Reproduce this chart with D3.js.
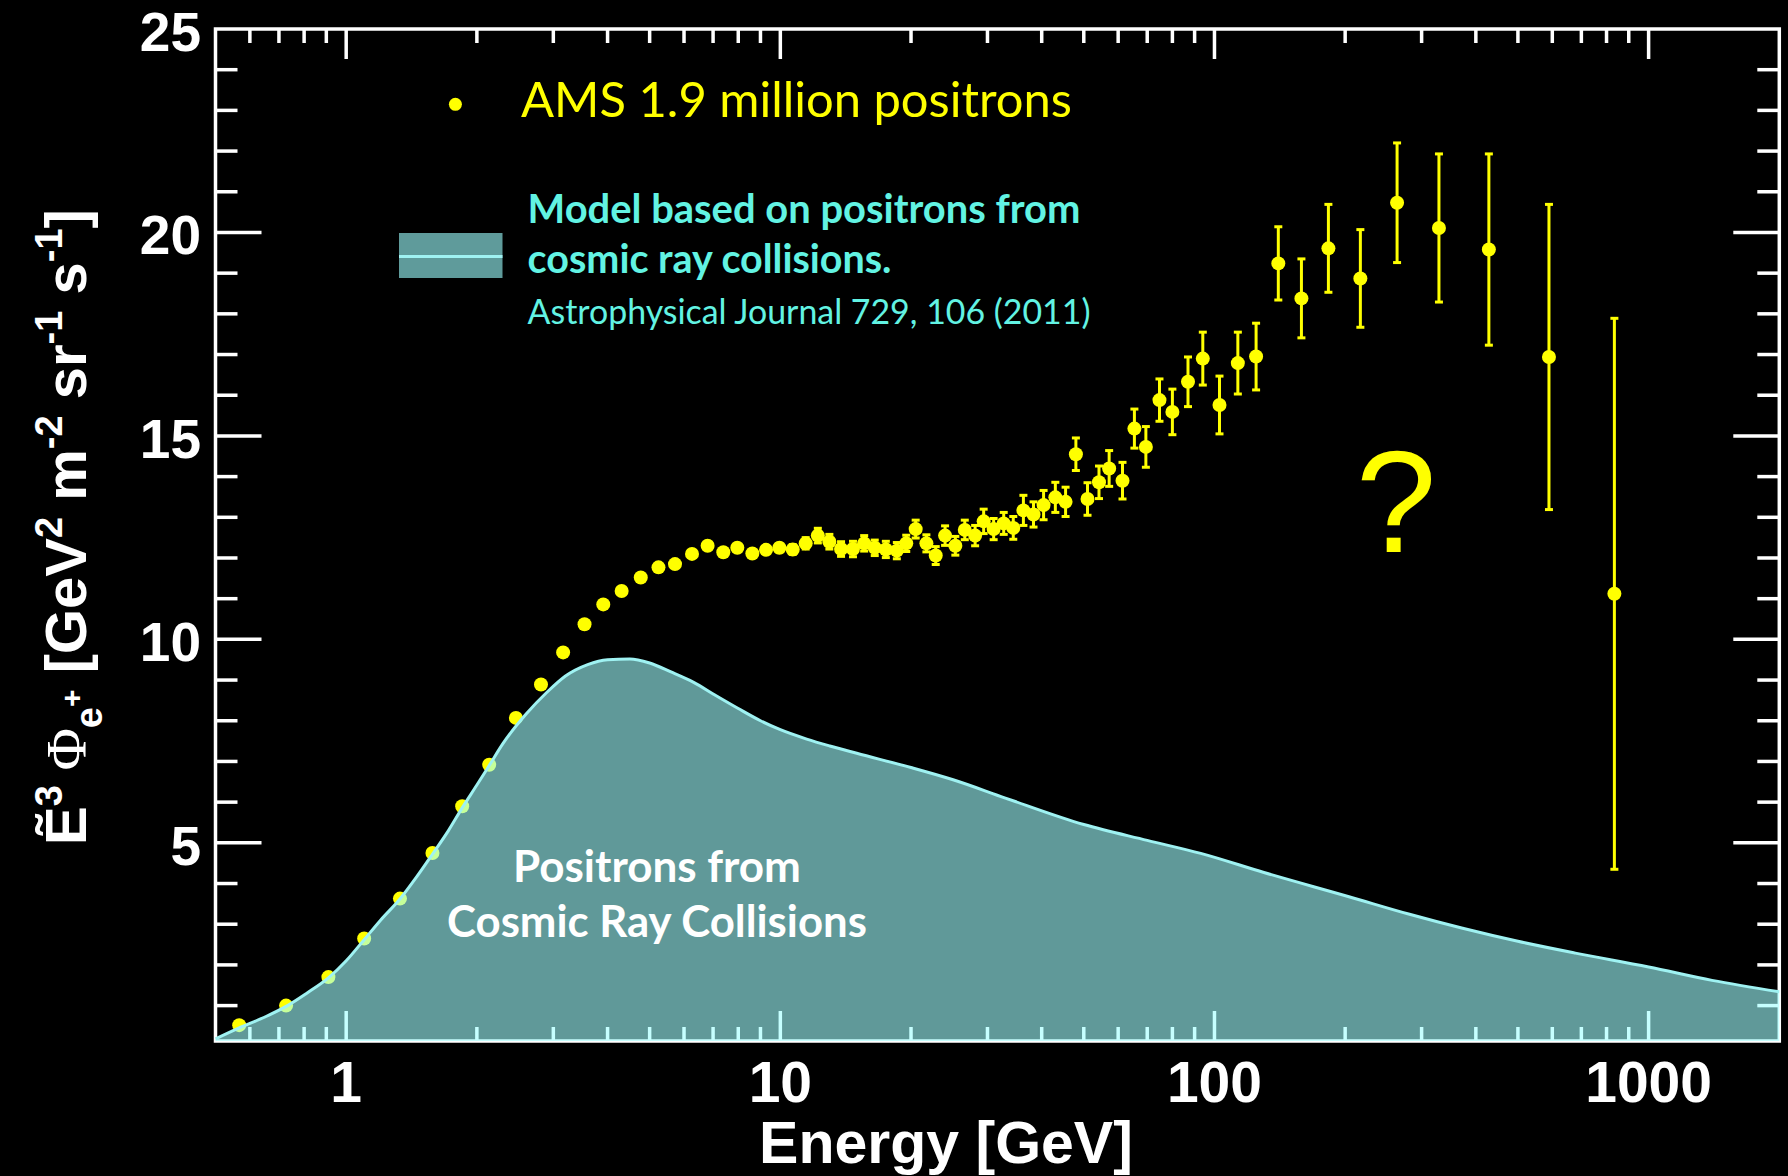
<!DOCTYPE html>
<html>
<head>
<meta charset="utf-8">
<script src="https://cdn.jsdelivr.net/npm/d3@7"></script>
<style>
  html, body { margin: 0; padding: 0; background: #000; }
  svg { display: block; }
</style>
</head>
<body>
<svg id="chart" width="1788" height="1176"></svg>
<script>
// AMS data points: energy [GeV], E^3 flux and error
const energy = [0.567, 0.727, 0.91, 1.10, 1.33, 1.58, 1.85, 2.135, 2.46, 2.81,
    3.16, 3.54, 3.91, 4.31, 4.77, 5.24, 5.72, 6.26, 6.80, 7.39,
    7.96, 8.62, 9.27, 9.95, 10.68, 11.44, 12.2, 12.97, 13.8, 14.7,
    15.6, 16.5, 17.5, 18.55, 19.5, 20.5, 21.7, 22.8, 23.96, 25.3,
    26.6, 28.1, 29.4, 31.0, 32.7, 34.4, 36.3, 38.3, 40.4, 43.0,
    45.4, 47.95, 51.0, 54.2, 57.2, 61.4, 65.4, 69.5, 74.7, 80.0,
    86.9, 94.0, 102.7, 113.2, 124.7, 140.3, 158.6, 183, 216.8, 263.4,
    328.9, 428.6, 589.5, 834];
const flux = [0.52, 1.00, 1.70, 2.65, 3.63, 4.75, 5.90, 6.92, 8.07, 8.89,
    9.68, 10.37, 10.86, 11.19, 11.52, 11.77, 11.85, 12.10, 12.30, 12.14,
    12.25, 12.11, 12.20, 12.25, 12.21, 12.36, 12.55, 12.40, 12.22, 12.22,
    12.36, 12.25, 12.21, 12.18, 12.36, 12.71, 12.36, 12.06, 12.55, 12.30,
    12.69, 12.55, 12.90, 12.71, 12.85, 12.74, 13.17, 13.07, 13.30, 13.49,
    13.38, 14.55, 13.45, 13.86, 14.20, 13.90, 15.18, 14.73, 15.88, 15.59,
    16.33, 16.90, 15.76, 16.79, 16.95, 19.24, 18.38, 19.61, 18.87, 20.73,
    20.11, 19.58, 16.94, 11.12];
const fluxErr = [0.03, 0.03, 0.03, 0.03, 0.03, 0.03, 0.03, 0.03, 0.03, 0.03,
    0.04, 0.04, 0.04, 0.05, 0.05, 0.05, 0.05, 0.06, 0.06, 0.06,
    0.07, 0.08, 0.09, 0.10, 0.12, 0.14, 0.18, 0.18, 0.18, 0.19,
    0.19, 0.19, 0.20, 0.20, 0.20, 0.22, 0.21, 0.22, 0.24, 0.23,
    0.24, 0.25, 0.30, 0.26, 0.27, 0.28, 0.37, 0.31, 0.36, 0.37,
    0.36, 0.40, 0.40, 0.40, 0.44, 0.45, 0.48, 0.50, 0.52, 0.56,
    0.61, 0.65, 0.71, 0.76, 0.82, 0.90, 0.97, 1.08, 1.20, 1.47,
    1.82, 2.35, 3.75, 6.77];

// Model: positrons from cosmic ray collisions
const modelEnergy = [0.5, 0.567, 0.65, 0.727, 0.81, 0.91, 1.0, 1.1, 1.2, 1.33,
    1.45, 1.58, 1.72, 1.85, 2.0, 2.135, 2.3, 2.6, 2.9, 3.2,
    3.6, 4.0, 4.5, 5.0, 5.6, 6.3, 7.1, 8.0, 9.0, 10,
    11.5, 13, 15, 20, 25, 33, 50, 70, 93, 130,
    205, 280, 373, 500, 678, 1000, 1400, 2000];
const modelFlux = [0.18, 0.45, 0.72, 0.98, 1.3, 1.68, 2.1, 2.62, 3.1, 3.62,
    4.15, 4.72, 5.3, 5.86, 6.42, 6.9, 7.45, 8.17, 8.7, 9.1,
    9.38, 9.5, 9.52, 9.42, 9.2, 8.95, 8.62, 8.3, 8.0, 7.78,
    7.55, 7.38, 7.2, 6.85, 6.55, 6.1, 5.45, 5.06, 4.74, 4.27,
    3.67, 3.25, 2.9, 2.58, 2.29, 1.95, 1.62, 1.34];

const xTickLabels = [1, 10, 100, 1000];
const yTickLabels = [5, 10, 15, 20, 25];

const svg = d3.select("#chart");
const cyanText = "#62f3e3";
const yellow = "#ffff00";

// scales
const xScale = d3.scaleLog().domain([0.5, 2000]).range([215.5, 1779.3]);
const yScale = d3.scaleLinear().domain([0.13, 25]).range([1041, 29]);

const plotLeft = xScale.range()[0], plotRight = xScale.range()[1];
const plotTop = yScale.range()[1], plotBottom = yScale.range()[0];

// frame and ticks
const axisG = svg.append("g")
    .attr("stroke", "#fff")
    .attr("stroke-width", 3.5)
    .attr("fill", "none");

axisG.append("rect")
    .attr("x", plotLeft).attr("y", plotTop)
    .attr("width", plotRight - plotLeft).attr("height", plotBottom - plotTop);

const xTicks = xScale.ticks().filter((d) => d > 0.5 && d < 2000);
xTicks.forEach((d) => {
    const major = xTickLabels.includes(d);
    const len = major ? 30 : 14;
    const x = xScale(d);
    axisG.append("line").attr("x1", x).attr("x2", x).attr("y1", plotBottom).attr("y2", plotBottom - len);
    axisG.append("line").attr("x1", x).attr("x2", x).attr("y1", plotTop).attr("y2", plotTop + len);
});

const yTicks = d3.range(1, 25);
yTicks.forEach((d) => {
    const major = yTickLabels.includes(d);
    const len = major ? 46 : 22;
    const y = yScale(d);
    axisG.append("line").attr("x1", plotLeft).attr("x2", plotLeft + len).attr("y1", y).attr("y2", y);
    axisG.append("line").attr("x1", plotRight).attr("x2", plotRight - len).attr("y1", y).attr("y2", y);
});

// tick labels
svg.append("g")
    .selectAll("text")
    .data(yTickLabels)
    .enter()
    .append("text")
    .attr("x", 201)
    .attr("y", (d) => yScale(d))
    .attr("dy", "0.4em")
    .attr("text-anchor", "end")
    .style("font-family", "'Liberation Sans', Arial, sans-serif")
    .style("font-weight", "bold")
    .style("font-size", "55px")
    .attr("fill", "#fff")
    .text((d) => d);

svg.append("g")
    .selectAll("text")
    .data(xTickLabels)
    .enter()
    .append("text")
    .attr("x", (d) => xScale(d))
    .attr("y", 1102)
    .attr("text-anchor", "middle")
    .style("font-family", "'Liberation Sans', Arial, sans-serif")
    .style("font-weight", "bold")
    .style("font-size", "57px")
    .attr("fill", "#fff")
    .text((d) => d);

// axis titles
svg.append("text")
    .attr("x", 946)
    .attr("y", 1163)
    .attr("text-anchor", "middle")
    .style("font-family", "'Liberation Sans', Arial, sans-serif")
    .style("font-weight", "bold")
    .style("font-size", "59px")
    .attr("fill", "#fff")
    .text("Energy [GeV]");

const yTitle = svg.append("text")
    .attr("transform", "translate(86,527) rotate(-90)")
    .attr("text-anchor", "middle")
    .style("font-family", "'Liberation Sans', Arial, sans-serif")
    .style("font-weight", "bold")
    .style("font-size", "58px")
    .attr("fill", "#fff");
yTitle.append("tspan").text("Ẽ");
yTitle.append("tspan").attr("dy", -24).style("font-size", "38px").text("3");
yTitle.append("tspan").attr("dy", 24).style("font-family", "'Liberation Serif', serif")
    .style("font-weight", "normal").text(" Φ");
yTitle.append("tspan").attr("dy", 16).style("font-size", "38px").text("e");
yTitle.append("tspan").attr("dy", -20).style("font-size", "30px").text("+");
yTitle.append("tspan").attr("dy", 4).text(" [GeV");
yTitle.append("tspan").attr("dy", -24).style("font-size", "38px").text("2");
yTitle.append("tspan").attr("dy", 24).text(" m");
yTitle.append("tspan").attr("dy", -24).style("font-size", "38px").text("-2");
yTitle.append("tspan").attr("dy", 24).text(" sr");
yTitle.append("tspan").attr("dy", -24).style("font-size", "38px").text("-1");
yTitle.append("tspan").attr("dy", 24).text(" s");
yTitle.append("tspan").attr("dy", -24).style("font-size", "38px").text("-1");
yTitle.append("tspan").attr("dy", 24).text("]");

// data points with error bars
const points = energy.map((e, i) => ({ e, v: flux[i], err: fluxErr[i] }));
const pg = svg.append("g");

pg.selectAll(".err")
    .data(points)
    .enter()
    .append("line")
    .attr("class", "err")
    .attr("x1", (d) => xScale(d.e))
    .attr("x2", (d) => xScale(d.e))
    .attr("y1", (d) => yScale(d.v + d.err))
    .attr("y2", (d) => yScale(d.v - d.err))
    .attr("stroke", yellow)
    .attr("stroke-width", 3);

["hi", "lo"].forEach((s) => {
    pg.selectAll(".cap" + s)
        .data(points)
        .enter()
        .append("line")
        .attr("class", "cap" + s)
        .attr("x1", (d) => xScale(d.e) - 4)
        .attr("x2", (d) => xScale(d.e) + 4)
        .attr("y1", (d) => yScale(s === "hi" ? d.v + d.err : d.v - d.err))
        .attr("y2", (d) => yScale(s === "hi" ? d.v + d.err : d.v - d.err))
        .attr("stroke", yellow)
        .attr("stroke-width", 3);
});

pg.selectAll(".dot")
    .data(points)
    .enter()
    .append("circle")
    .attr("class", "dot")
    .attr("cx", (d) => xScale(d.e))
    .attr("cy", (d) => yScale(d.v))
    .attr("r", 7)
    .attr("fill", yellow);

// model area (translucent, on top of points and axes)
const model = modelEnergy.map((e, i) => ({ e, v: modelFlux[i] }));

const area = d3.area()
    .x((d) => xScale(d.e))
    .y0(plotBottom)
    .y1((d) => yScale(d.v))
    .curve(d3.curveMonotoneX);

const line = d3.line()
    .x((d) => xScale(d.e))
    .y((d) => yScale(d.v))
    .curve(d3.curveMonotoneX);

svg.append("path")
    .datum(model)
    .attr("d", area)
    .attr("fill", "rgb(160,255,255)")
    .attr("fill-opacity", 0.6);

svg.append("path")
    .datum(model)
    .attr("d", line)
    .attr("fill", "none")
    .attr("stroke", "#9ff2f2")
    .attr("stroke-width", 3);

// text helper: scale font size to hit a target width
function fitWidth(sel, target) {
    const w = sel.node().getComputedTextLength();
    const fs = parseFloat(sel.style("font-size"));
    sel.style("font-size", (fs * target / w) + "px");
}

function addText(x, y, str, opts) {
    const t = svg.append("text")
        .attr("x", x)
        .attr("y", y)
        .attr("text-anchor", opts.anchor || "start")
        .style("font-family", opts.font || "Lato, 'Open Sans', sans-serif")
        .style("font-weight", opts.bold ? "bold" : "normal")
        .style("font-size", (opts.size || 40) + "px")
        .attr("fill", opts.color)
        .text(str);
    if (opts.width) fitWidth(t, opts.width);
    return t;
}

// legend
svg.append("circle")
    .attr("cx", 455.4).attr("cy", 104.3).attr("r", 6.5)
    .attr("fill", yellow);
addText(521, 117, "AMS 1.9 million positrons", { color: yellow, width: 551, size: 46 });

svg.append("rect")
    .attr("x", 399).attr("y", 233)
    .attr("width", 103.5).attr("height", 45)
    .attr("fill", "#5f9b9b");
svg.append("line")
    .attr("x1", 399).attr("x2", 502.5)
    .attr("y1", 256.5).attr("y2", 256.5)
    .attr("stroke", "#9ff2f2")
    .attr("stroke-width", 3);

addText(527.6, 222.7, "Model based on positrons from", { color: cyanText, bold: true, width: 553, size: 40 });
addText(527.6, 273, "cosmic ray collisions.", { color: cyanText, bold: true, width: 364, size: 40 });
addText(527.6, 324, "Astrophysical Journal 729, 106 (2011)", { color: cyanText, width: 563, size: 34 });

// annotations
addText(657, 881.7, "Positrons from", { color: "#fff", bold: true, anchor: "middle", width: 288, size: 42 });
addText(657, 936.7, "Cosmic Ray Collisions", { color: "#fff", bold: true, anchor: "middle", width: 420, size: 42 });

addText(1396, 551.7, "?", {
    color: yellow, anchor: "middle", size: 145,
    font: "'Liberation Sans', Arial, sans-serif"
});
</script>
</body>
</html>
